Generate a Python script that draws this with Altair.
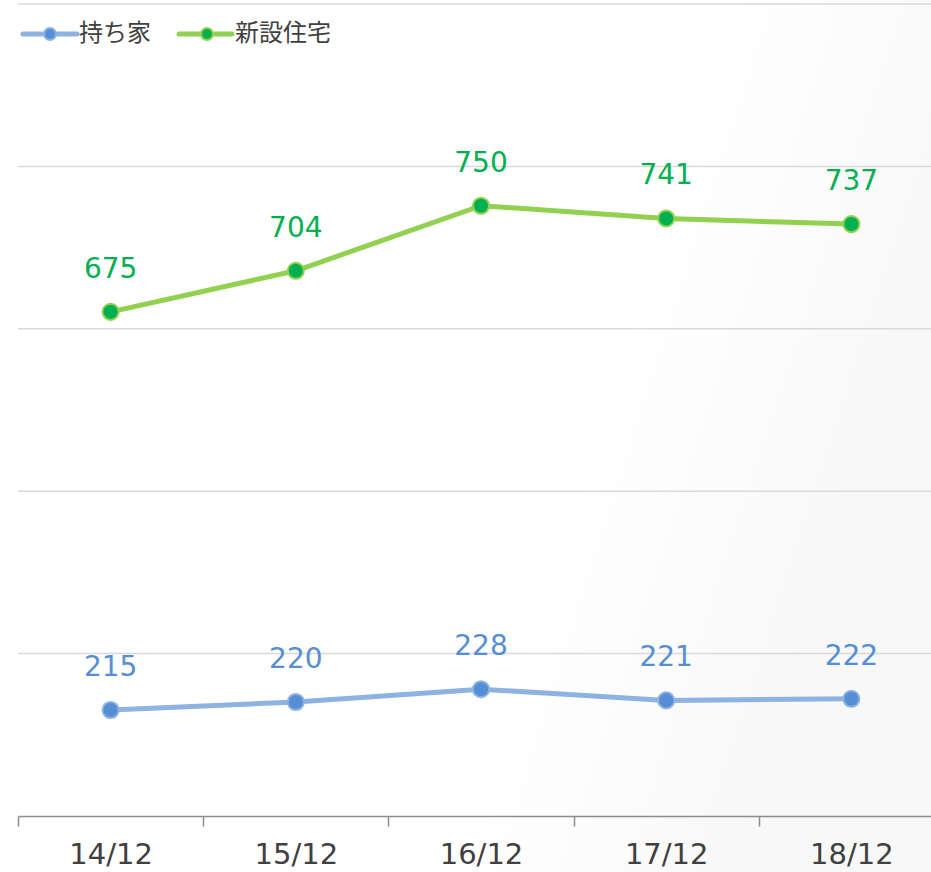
import altair as alt
import pandas as pd

# ---- data ----
periods = ["14/12", "15/12", "16/12", "17/12", "18/12"]
owner_values = [215, 220, 228, 221, 222]          # 持ち家
new_housing_values = [675, 704, 750, 741, 737]    # 新設住宅

owner_name = "持ち家"
new_name = "新設住宅"
grid_levels = [1, 2, 3, 4, 5]

# ---- styling ----
W, H = 913, 812
FONT_NUM = "DejaVu Sans"
FONT_JP = "Noto Sans CJK JP"
BLUE_LINE, BLUE_DOT, BLUE_TXT = "#8db3e2", "#558ed5", "#558ed5"
GREEN_LINE, GREEN_DOT, GREEN_TXT = "#92d050", "#00b050", "#00b050"

df_owner = pd.DataFrame({"period": periods, "value": owner_values})
df_new = pd.DataFrame({"period": periods, "value": new_housing_values})
df_grid = pd.DataFrame({"g": grid_levels})

x_enc = alt.X(
    "period:N",
    sort=periods,
    scale=alt.Scale(type="band", paddingInner=0, paddingOuter=0, range=[0, 926]),
    axis=alt.Axis(
        title=None,
        labelAngle=0,
        labelFont=FONT_NUM,
        labelFontSize=29,
        labelColor="#404040",
        labelPadding=14,
        tickBand="extent",
        tickSize=10,
        tickColor="#8c8c8c",
        tickWidth=1.5,
        domainColor="#8c8c8c",
        domainWidth=1.5,
        grid=False,
        zindex=1,
    ),
)


def series(df, domain, line_c, dot_c, txt_c):
    y = alt.Y("value:Q", scale=alt.Scale(domain=domain, nice=False, zero=False), axis=None)
    base = alt.Chart(df).encode(x=x_enc, y=y)
    line = base.mark_line(color=line_c, strokeWidth=5)
    pts = base.mark_point(filled=True, fill=dot_c, stroke=line_c, strokeWidth=2,
                          size=260, opacity=1, shape="circle")
    txt = base.mark_text(dy=-34, baseline="alphabetic", font=FONT_NUM,
                         fontSize=28, color=txt_c).encode(text="value:Q")
    return [line, pts, txt]


owner_layers = series(df_owner, [148.75, 656.25], BLUE_LINE, BLUE_DOT, BLUE_TXT)
new_layers = series(df_new, [318.6, 892.6], GREEN_LINE, GREEN_DOT, GREEN_TXT)

bg = alt.Chart(pd.DataFrame({"a": [0]})).mark_rect(
    color={
        "gradient": "linear",
        "x1": 0, "y1": 0, "x2": 1, "y2": 0.3,
        "stops": [
            {"offset": 0, "color": "#ffffff"},
            {"offset": 0.72, "color": "#ffffff"},
            {"offset": 1, "color": "#f8f8f8"},
        ],
    }
).encode(x=alt.value(-18), x2=alt.value(W), y=alt.value(-4), y2=alt.value(H + 56))

grid = alt.Chart(df_grid).mark_rule(color="#d9d9d9", strokeWidth=1.5).encode(
    y=alt.Y("g:Q", scale=alt.Scale(domain=[0, 5], nice=False), axis=None),
    x=alt.value(0), x2=alt.value(W),
)

# ---- legend (drawn) ----
leg = pd.DataFrame({"a": [0]})
LY = 30


def legend_item(x0, x1, xc, xt, label, line_c, dot_c):
    ln = alt.Chart(leg).mark_rule(color=line_c, strokeWidth=5, strokeCap="round").encode(
        x=alt.value(x0), x2=alt.value(x1), y=alt.value(LY))
    dot = alt.Chart(leg).mark_point(filled=True, fill=dot_c, stroke=line_c, strokeWidth=2,
                                    size=140, opacity=1, shape="circle").encode(
        x=alt.value(xc), y=alt.value(LY))
    tx = alt.Chart(leg).mark_text(align="left", baseline="middle", font=FONT_JP,
                                  fontSize=24, color="#404040", text=label).encode(
        x=alt.value(xt), y=alt.value(LY))
    return [ln, dot, tx]


legend_layers = (legend_item(5, 59, 32, 61, owner_name, BLUE_LINE, BLUE_DOT)
                 + legend_item(161, 214, 189, 217, new_name, GREEN_LINE, GREEN_DOT))

chart = alt.layer(
    bg, grid, *owner_layers, *new_layers, *legend_layers
).resolve_scale(y="independent").properties(
    width=W, height=H,
    autosize=alt.AutoSizeParams(type="none"),
    padding={"left": 18, "top": 4, "right": 0, "bottom": 56},
    background="#ffffff",
).configure_view(stroke=None)

chart.save("out.html", embed_options={"renderer": "svg", "actions": False})
